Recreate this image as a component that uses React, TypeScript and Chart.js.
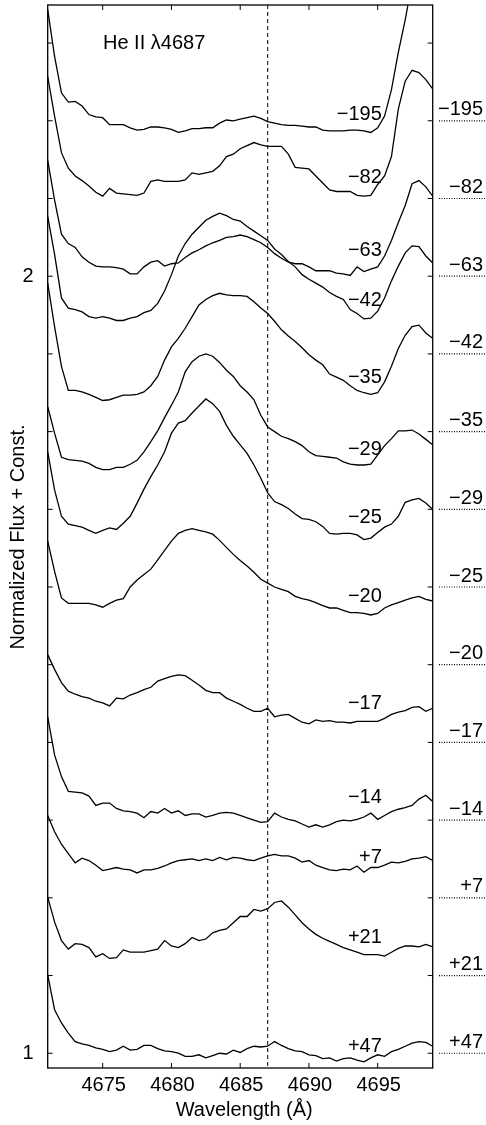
import React, { useEffect, useRef } from "react";
import { Chart, registerables } from "chart.js";
Chart.register(...registerables);

const wavelengths = [4671,4671.5,4672,4672.5,4673,4673.5,4674,4674.5,4675,4675.5,4676,4676.5,4677,4677.5,4678,4678.5,4679,4679.5,4680,4680.5,4681,4681.5,4682,4682.5,4683,4683.5,4684,4684.5,4685,4685.5,4686,4686.5,4687,4687.5,4688,4688.5,4689,4689.5,4690,4690.5,4691,4691.5,4692,4692.5,4693,4693.5,4694,4694.5,4695,4695.5,4696,4696.5,4697,4697.5,4698,4698.5,4699];

const phaseLabels = ["\u2212195","\u221282","\u221263","\u221242","\u221235","\u221229","\u221225","\u221220","\u221217","\u221214","+7","+21","+47"];
const offsets = [1.2,1.1,1.0,0.9,0.8,0.7,0.6,0.5,0.4,0.3,0.2,0.1,0.0];
const innerLabelY = [2.208,2.127,2.033,1.969,1.869,1.777,1.689,1.588,1.450,1.329,1.252,1.149,1.009];

const fM195 = [1.143,1.083,1.036,1.024,1.025,1.019,1.008,1.005,1.004,0.995,0.995,0.995,0.991,0.988,0.989,0.992,0.992,0.991,0.989,0.985,0.987,0.990,0.990,0.991,0.991,0.997,1.001,1.000,1.002,1.004,1.006,1.003,0.999,0.997,0.995,0.994,0.994,0.993,0.992,0.992,0.988,0.987,0.987,0.987,0.988,0.988,0.987,0.985,0.991,1.006,1.040,1.088,1.130,1.178,1.22,1.26,1.28];
const fM82 = [1.157,1.106,1.059,1.039,1.029,1.023,1.016,1.008,1.003,1.013,1.007,1.006,1.005,1.004,1.007,1.022,1.024,1.022,1.022,1.022,1.024,1.033,1.031,1.033,1.035,1.042,1.054,1.057,1.064,1.068,1.072,1.069,1.067,1.067,1.067,1.057,1.040,1.039,1.038,1.029,1.020,1.011,1.009,1.009,1.009,1.004,1.003,1.004,1.018,1.029,1.054,1.115,1.151,1.165,1.162,1.153,1.141];
const fM63 = [1.149,1.098,1.054,1.042,1.037,1.025,1.018,1.013,1.012,1.012,1.011,1.009,1.003,1.003,1.012,1.018,1.020,1.013,1.016,1.017,1.024,1.030,1.034,1.039,1.043,1.046,1.050,1.051,1.053,1.051,1.047,1.043,1.037,1.029,1.023,1.018,1.016,1.016,1.012,1.007,1.007,1.007,1.004,1.003,1.001,1.012,1.006,1.009,1.012,1.026,1.046,1.069,1.091,1.119,1.123,1.115,1.103];
const fM42 = [1.177,1.128,1.072,1.059,1.057,1.054,1.048,1.046,1.048,1.046,1.043,1.043,1.046,1.048,1.053,1.056,1.065,1.081,1.102,1.126,1.142,1.154,1.163,1.172,1.177,1.181,1.178,1.173,1.171,1.164,1.158,1.152,1.146,1.135,1.128,1.119,1.112,1.102,1.096,1.091,1.086,1.079,1.074,1.070,1.057,1.052,1.045,1.046,1.055,1.072,1.094,1.113,1.130,1.139,1.138,1.126,1.117];
const fM35 = [1.191,1.135,1.084,1.053,1.053,1.051,1.048,1.044,1.040,1.041,1.044,1.047,1.047,1.048,1.051,1.059,1.071,1.092,1.109,1.120,1.133,1.148,1.163,1.170,1.175,1.178,1.176,1.175,1.175,1.174,1.167,1.159,1.152,1.142,1.131,1.123,1.116,1.108,1.099,1.092,1.086,1.074,1.070,1.066,1.059,1.053,1.050,1.048,1.050,1.064,1.084,1.107,1.124,1.135,1.137,1.127,1.120];
const fM29 = [1.132,1.098,1.067,1.064,1.063,1.062,1.059,1.054,1.051,1.051,1.054,1.054,1.058,1.063,1.074,1.087,1.101,1.118,1.134,1.151,1.177,1.190,1.197,1.200,1.197,1.189,1.179,1.171,1.159,1.151,1.141,1.121,1.106,1.100,1.094,1.091,1.087,1.082,1.074,1.069,1.068,1.067,1.066,1.061,1.058,1.057,1.057,1.058,1.070,1.082,1.091,1.101,1.101,1.102,1.097,1.090,1.083];
const fM25 = [1.174,1.125,1.091,1.081,1.079,1.077,1.073,1.069,1.073,1.076,1.074,1.082,1.091,1.108,1.126,1.142,1.157,1.174,1.198,1.211,1.214,1.224,1.233,1.242,1.236,1.226,1.208,1.194,1.183,1.172,1.157,1.140,1.121,1.110,1.106,1.101,1.094,1.088,1.087,1.084,1.078,1.069,1.068,1.069,1.069,1.067,1.061,1.063,1.070,1.077,1.081,1.091,1.109,1.112,1.114,1.108,1.100];
const fM20 = [1.159,1.120,1.086,1.079,1.079,1.079,1.079,1.077,1.074,1.079,1.083,1.085,1.100,1.109,1.116,1.123,1.135,1.147,1.159,1.169,1.173,1.175,1.173,1.171,1.168,1.160,1.151,1.142,1.134,1.127,1.119,1.110,1.105,1.100,1.097,1.094,1.088,1.085,1.083,1.080,1.076,1.073,1.073,1.070,1.067,1.067,1.066,1.064,1.066,1.073,1.077,1.080,1.083,1.086,1.088,1.084,1.082];
const fM17 = [1.113,1.094,1.077,1.066,1.062,1.059,1.057,1.053,1.051,1.047,1.057,1.056,1.061,1.064,1.068,1.071,1.079,1.082,1.085,1.087,1.086,1.080,1.074,1.067,1.064,1.064,1.057,1.053,1.049,1.044,1.040,1.040,1.044,1.033,1.035,1.036,1.031,1.026,1.024,1.029,1.027,1.028,1.026,1.026,1.025,1.027,1.027,1.027,1.027,1.031,1.036,1.039,1.041,1.045,1.046,1.040,1.044];
const fM14 = [1.133,1.084,1.056,1.037,1.036,1.035,1.031,1.019,1.022,1.022,1.015,1.012,1.011,1.009,1.003,1.011,1.009,1.015,1.009,1.012,1.006,1.008,1.008,1.004,1.006,1.009,1.010,1.009,1.006,1.003,1.000,0.997,0.998,1.009,1.004,1.001,0.999,0.995,0.991,0.994,0.991,0.994,0.998,1.000,0.999,1.001,1.004,1.009,1.001,1.006,1.011,1.014,1.016,1.019,1.027,1.032,1.024];
const fP7 = [1.106,1.085,1.069,1.057,1.045,1.051,1.048,1.042,1.035,1.037,1.039,1.037,1.036,1.032,1.036,1.036,1.038,1.041,1.045,1.048,1.049,1.050,1.048,1.050,1.048,1.052,1.049,1.052,1.051,1.049,1.048,1.051,1.054,1.056,1.054,1.054,1.051,1.046,1.048,1.042,1.039,1.036,1.035,1.037,1.036,1.041,1.033,1.039,1.039,1.042,1.046,1.045,1.047,1.050,1.051,1.053,1.048];
const fP21 = [1.101,1.069,1.045,1.034,1.041,1.040,1.036,1.024,1.028,1.022,1.023,1.033,1.030,1.030,1.030,1.032,1.034,1.045,1.038,1.036,1.041,1.049,1.045,1.047,1.055,1.058,1.060,1.068,1.076,1.076,1.085,1.083,1.086,1.094,1.096,1.088,1.078,1.068,1.060,1.053,1.048,1.044,1.040,1.036,1.033,1.030,1.027,1.027,1.027,1.025,1.030,1.035,1.038,1.038,1.037,1.040,1.037];
const fP47 = [1.101,1.056,1.039,1.026,1.015,1.012,1.010,1.007,1.005,1.002,1.004,1.009,1.004,1.005,1.010,1.010,1.006,1.003,1.002,1.000,0.996,0.996,0.998,0.994,0.997,1.000,0.999,1.004,1.001,1.006,1.009,1.008,1.009,1.015,1.010,1.006,1.003,1.002,0.998,0.997,0.993,0.994,0.990,0.993,0.994,0.991,0.989,0.994,0.998,0.996,1.002,1.005,1.009,1.013,1.015,1.014,1.009];

const spectra = [fM195,fM82,fM63,fM42,fM35,fM29,fM25,fM20,fM17,fM14,fP7,fP21,fP47];
const xTicks = [4675,4680,4685,4690,4695];
const yTicks = [1.0,1.1,1.2,1.3,1.4,1.5,1.6,1.7,1.8,1.9,2.0,2.1,2.2,2.3];
const yTickLabels = ["1","","","","","","","","","","2","","","",""];
const restWavelength = 4687;

const FONT = "'Liberation Sans', Arial, sans-serif";

const overlay = {
  id: "overlay",
  beforeDatasetsDraw(chart: any) {
    const { ctx, chartArea: a, scales } = chart;
    const x = scales.x.getPixelForValue(restWavelength);
    ctx.save();
    ctx.strokeStyle = "#000";
    ctx.lineWidth = 1;
    ctx.setLineDash([4, 3]);
    ctx.beginPath();
    ctx.moveTo(x, a.top);
    ctx.lineTo(x, a.bottom);
    ctx.stroke();
    ctx.restore();
  },
  afterDraw(chart: any) {
    const { ctx, chartArea: a, scales } = chart;
    const xs = scales.x, ys = scales.y;
    ctx.save();
    ctx.strokeStyle = "#000";
    ctx.lineWidth = 1.3;
    ctx.strokeRect(a.left, a.top, a.right - a.left, a.bottom - a.top);
    ctx.lineWidth = 1;
    const tl = 5;
    ctx.beginPath();
    xTicks.forEach((t) => {
      const px = xs.getPixelForValue(t);
      ctx.moveTo(px, a.bottom); ctx.lineTo(px, a.bottom - tl);
      ctx.moveTo(px, a.top); ctx.lineTo(px, a.top + tl);
    });
    yTicks.forEach((t) => {
      const py = ys.getPixelForValue(t);
      ctx.moveTo(a.left, py); ctx.lineTo(a.left + tl, py);
      ctx.moveTo(a.right, py); ctx.lineTo(a.right - tl, py);
    });
    ctx.stroke();
    ctx.fillStyle = "#000";
    ctx.font = `20px ${FONT}`;
    ctx.textAlign = "center";
    ctx.textBaseline = "middle";
    xTicks.forEach((t) => ctx.fillText(String(t), xs.getPixelForValue(t) + 1, a.bottom + 17));
    ctx.fillText("Wavelength (\u00c5)", (a.left + a.right) / 2 + 4, a.bottom + 42);
    ctx.textAlign = "right";
    yTicks.forEach((t, i) => {
      if (yTickLabels[i]) ctx.fillText(yTickLabels[i], a.left - 14, ys.getPixelForValue(t));
    });
    ctx.save();
    ctx.translate(18, 537);
    ctx.rotate(-Math.PI / 2);
    ctx.textAlign = "center";
    ctx.fillText("Normalized Flux + Const.", 0, 0);
    ctx.restore();
    ctx.textAlign = "left";
    ctx.fillText("He II \u03bb4687", 103, 43);
    ctx.textAlign = "right";
    phaseLabels.forEach((lab, i) => {
      ctx.fillText(lab, xs.getPixelForValue(4695.3), ys.getPixelForValue(innerLabelY[i]));
    });
    phaseLabels.forEach((lab, i) => {
      const py = ys.getPixelForValue(1 + offsets[i]);
      ctx.fillText(lab, 483, py - 11);
      ctx.save();
      ctx.lineWidth = 1.2;
      ctx.setLineDash([1, 1.5]);
      ctx.beginPath();
      ctx.moveTo(439, py);
      ctx.lineTo(486, py);
      ctx.stroke();
      ctx.restore();
    });
    ctx.restore();
  },
};

export default function App() {
  const ref = useRef<HTMLCanvasElement>(null);
  useEffect(() => {
    if (!ref.current) return;
    const datasets = spectra.map((f, i) => ({
      label: phaseLabels[i],
      data: wavelengths.map((w, j) => ({ x: w, y: f[j] + offsets[i] })),
      borderColor: "#000",
      borderWidth: 1.3,
      pointRadius: 0,
      tension: 0,
      fill: false,
    }));
    const chart = new Chart(ref.current, {
      type: "line",
      data: { datasets },
      options: {
        animation: false,
        responsive: false,
        devicePixelRatio: 1,
        layout: { padding: { left: 47.7, right: 53.3, top: 5, bottom: 57 } },
        plugins: { legend: { display: false }, tooltip: { enabled: false } },
        scales: {
          x: { type: "linear", min: 4671, max: 4699, display: false },
          y: { type: "linear", min: 0.981, max: 2.349, display: false },
        },
      },
      plugins: [overlay],
    });
    return () => chart.destroy();
  }, []);
  return (
    <div style={{ position: "absolute", left: 0, top: 0, background: "#fff" }}>
      <canvas ref={ref} width={486} height={1125} />
    </div>
  );
}
